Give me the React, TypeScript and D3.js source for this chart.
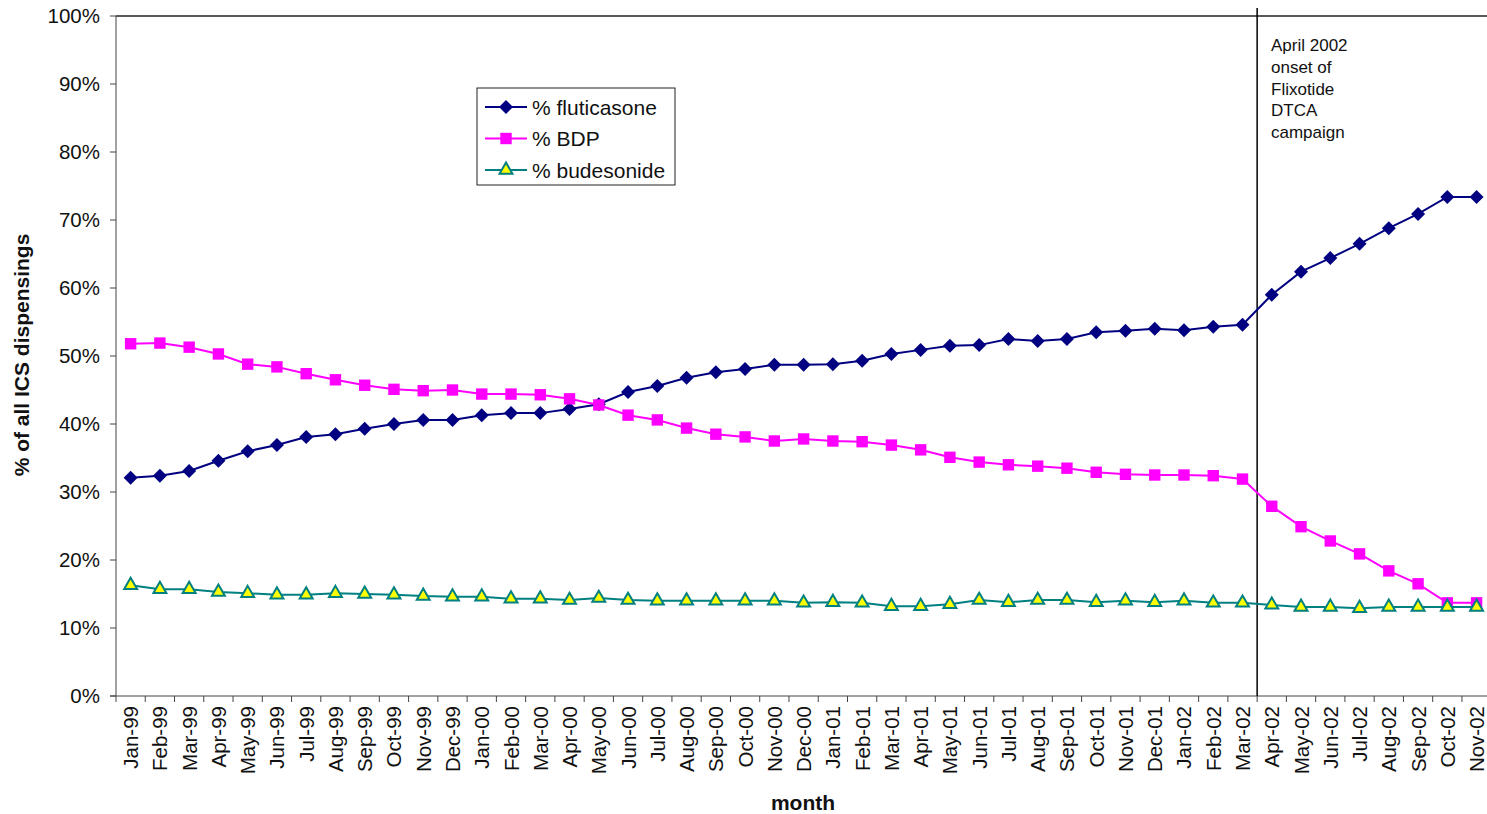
import * as d3 from 'd3'

const MONTHS = [
  'Jan-99', 'Feb-99', 'Mar-99', 'Apr-99', 'May-99', 'Jun-99', 'Jul-99', 'Aug-99', 'Sep-99', 'Oct-99', 'Nov-99', 'Dec-99',
  'Jan-00', 'Feb-00', 'Mar-00', 'Apr-00', 'May-00', 'Jun-00', 'Jul-00', 'Aug-00', 'Sep-00', 'Oct-00', 'Nov-00', 'Dec-00',
  'Jan-01', 'Feb-01', 'Mar-01', 'Apr-01', 'May-01', 'Jun-01', 'Jul-01', 'Aug-01', 'Sep-01', 'Oct-01', 'Nov-01', 'Dec-01',
  'Jan-02', 'Feb-02', 'Mar-02', 'Apr-02', 'May-02', 'Jun-02', 'Jul-02', 'Aug-02', 'Sep-02', 'Oct-02', 'Nov-02',
]

const FLUTICASONE = [
  32.1, 32.4, 33.1, 34.6, 36.0, 36.9, 38.1, 38.5, 39.3, 40.0, 40.6, 40.6,
  41.3, 41.6, 41.6, 42.2, 42.9, 44.7, 45.6, 46.8, 47.6, 48.1, 48.7, 48.7,
  48.8, 49.3, 50.3, 50.9, 51.5, 51.6, 52.5, 52.2, 52.5, 53.5, 53.7, 54.0,
  53.8, 54.3, 54.6, 59.0, 62.4, 64.4, 66.5, 68.8, 70.9, 73.4, 73.4,
]

const BDP = [
  51.8, 51.9, 51.3, 50.3, 48.8, 48.4, 47.4, 46.5, 45.7, 45.1, 44.9, 45.0,
  44.4, 44.4, 44.3, 43.7, 42.8, 41.3, 40.6, 39.4, 38.5, 38.1, 37.5, 37.8,
  37.5, 37.4, 36.9, 36.2, 35.1, 34.4, 34.0, 33.8, 33.5, 32.9, 32.6, 32.5,
  32.5, 32.4, 31.9, 27.9, 24.9, 22.8, 20.9, 18.4, 16.5, 13.7, 13.7,
]

const BUDESONIDE = [
  16.3, 15.7, 15.7, 15.3, 15.1, 14.9, 14.9, 15.1, 15.0, 14.9, 14.7, 14.6,
  14.6, 14.3, 14.3, 14.1, 14.4, 14.1, 14.0, 14.0, 14.0, 14.0, 14.0, 13.7,
  13.8, 13.7, 13.2, 13.2, 13.5, 14.1, 13.8, 14.1, 14.1, 13.8, 14.0, 13.8,
  14.0, 13.7, 13.7, 13.4, 13.1, 13.1, 12.9, 13.1, 13.1, 13.1, 13.1,
]

const Y_TICKS = [0, 10, 20, 30, 40, 50, 60, 70, 80, 90, 100]
const ANNOTATION = ['April 2002', 'onset of', 'Flixotide', 'DTCA', 'campaign']
const CAMPAIGN_MONTH = 'Apr-02'

const FONT = 'Arial, "Liberation Sans", sans-serif'

type Series = {
  name: string
  values: number[]
  stroke: string
  fill: string
  markerStroke: string
  symbol: d3.SymbolType
  size: number
  rotate: number
}

const SERIES: Series[] = [
  { name: '% fluticasone', values: FLUTICASONE, stroke: '#000080', fill: '#000080', markerStroke: '#000080', symbol: d3.symbolSquare, size: 98, rotate: 45 },
  { name: '% BDP', values: BDP, stroke: '#ff00ff', fill: '#ff00ff', markerStroke: '#ff00ff', symbol: d3.symbolSquare, size: 130, rotate: 0 },
  { name: '% budesonide', values: BUDESONIDE, stroke: '#008080', fill: '#ffff00', markerStroke: '#008080', symbol: d3.symbolTriangle, size: 72, rotate: 0 },
]

const W = 1487
const H = 814
const left = 116
const top = 16
const bottom = 696
const bandW = 29.26

export default function App() {
  const x = d3.scaleBand<string>().domain(MONTHS).range([left, left + bandW * MONTHS.length]).padding(0)
  const y = d3.scaleLinear().domain([0, 100]).range([bottom, top])
  const cx = (m: string) => (x(m) ?? 0) + x.bandwidth() / 2

  const line = d3
    .line<number>()
    .x((_, i) => cx(MONTHS[i]))
    .y((d) => y(d))

  const boundaries = [...MONTHS.map((m) => x(m) ?? 0), x.range()[1]]
  const campX = x(CAMPAIGN_MONTH) ?? 0

  return (
    <>
      <style>{'body{margin:0}'}</style>
      <svg width={W} height={H} style={{ display: 'block', fontFamily: FONT }}>
        <rect width={W} height={H} fill="#fff" />

        {/* top border of plot area */}
        <line x1={left} x2={W} y1={top} y2={top} stroke="#222" strokeWidth={1.5} />

        {/* y axis */}
        <line x1={left} x2={left} y1={top} y2={bottom} stroke="#444" strokeWidth={1} />
        {Y_TICKS.map((t) => (
          <g key={t}>
            <line x1={left - 6} x2={left} y1={y(t)} y2={y(t)} stroke="#444" />
            <text x={100} y={y(t)} dy="0.35em" textAnchor="end" fontSize={20.5} fill="#111">
              {t}%
            </text>
          </g>
        ))}

        {/* x axis */}
        <line x1={left - 6} x2={W} y1={bottom} y2={bottom} stroke="#444" />
        {boundaries.map((b, i) => (
          <line key={i} x1={b} x2={b} y1={bottom} y2={bottom + 6} stroke="#444" />
        ))}
        {MONTHS.map((m) => (
          <text
            key={m}
            transform={`translate(${cx(m) + 7.5},${bottom + 10}) rotate(-90)`}
            textAnchor="end"
            fontSize={20.5}
            fill="#111"
          >
            {m}
          </text>
        ))}

        {/* axis titles */}
        <text x={803} y={810} textAnchor="middle" fontSize={21} fontWeight="bold" fill="#111">
          month
        </text>
        <text
          transform={`translate(29,355) rotate(-90)`}
          textAnchor="middle"
          fontSize={21}
          fontWeight="bold"
          fill="#111"
        >
          % of all ICS dispensings
        </text>

        {/* campaign marker */}
        <line x1={campX} x2={campX} y1={8} y2={bottom} stroke="#000" strokeWidth={1.5} />
        {ANNOTATION.map((t, i) => (
          <text key={t} x={1271} y={51 + i * 21.8} fontSize={17} fill="#111">
            {t}
          </text>
        ))}

        {/* series */}
        {SERIES.map((s) => (
          <g key={s.name}>
            <path d={line(s.values) ?? ''} fill="none" stroke={s.stroke} strokeWidth={2} />
            {s.values.map((v, i) => (
              <path
                key={i}
                d={d3.symbol(s.symbol, s.size)() ?? ''}
                transform={`translate(${cx(MONTHS[i])},${y(v)}) rotate(${s.rotate})`}
                fill={s.fill}
                stroke={s.markerStroke}
                strokeWidth={s.fill === s.markerStroke ? 0 : 2}
              />
            ))}
          </g>
        ))}

        {/* legend */}
        <rect x={477} y={88} width={198} height={97} fill="#fff" stroke="#222" strokeWidth={1} />
        {SERIES.map((s, i) => {
          const ly = 107 + i * 31.5
          return (
            <g key={s.name}>
              <line x1={485} x2={527} y1={ly} y2={ly} stroke={s.stroke} strokeWidth={2} />
              <path
                d={d3.symbol(s.symbol, s.size)() ?? ''}
                transform={`translate(506,${ly}) rotate(${s.rotate})`}
                fill={s.fill}
                stroke={s.markerStroke}
                strokeWidth={s.fill === s.markerStroke ? 0 : 2}
              />
              <text x={532} y={ly} dy="0.36em" fontSize={21} fill="#111">
                {s.name}
              </text>
            </g>
          )
        })}
      </svg>
    </>
  )
}
